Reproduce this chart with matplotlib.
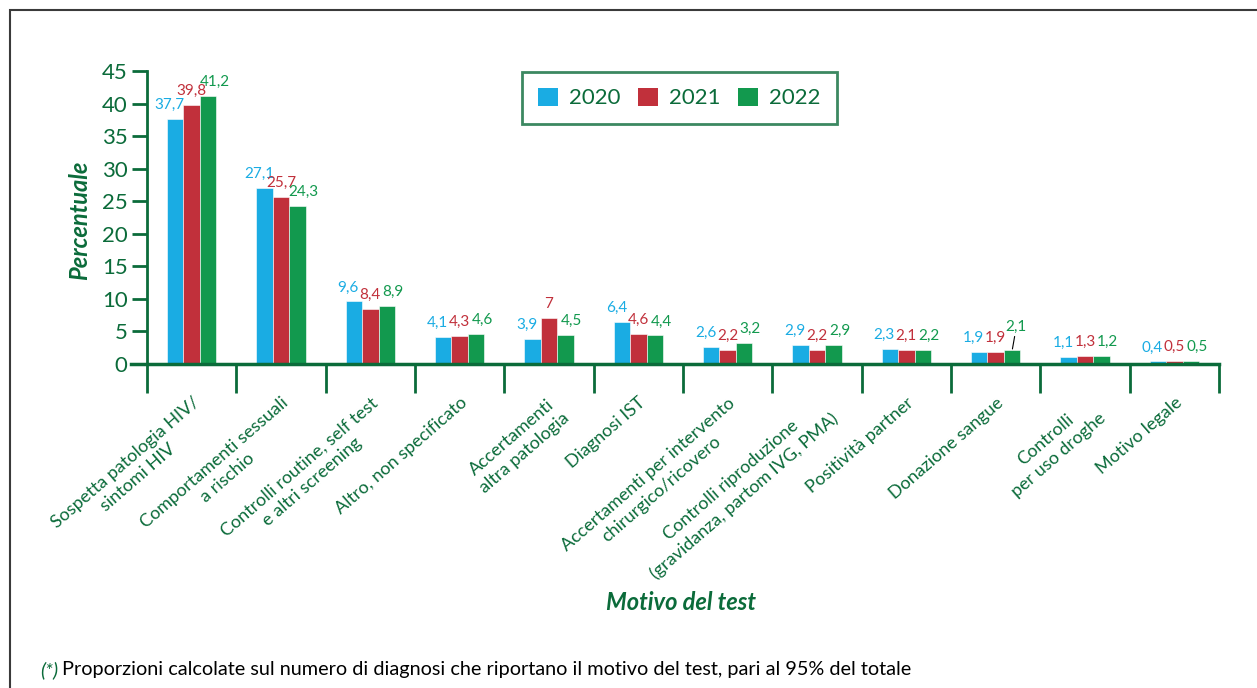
import numpy as np
import matplotlib
matplotlib.use("Agg")
import matplotlib.pyplot as plt
from matplotlib.patches import Rectangle, Patch

plt.rcParams['font.family'] = ['Lato', 'DejaVu Sans']

categories = [
    "Sospetta patologia HIV/\nsintomi HIV",
    "Comportamenti sessuali\na rischio",
    "Controlli routine, self test\ne altri screening",
    "Altro, non specificato",
    "Accertamenti\naltra patologia",
    "Diagnosi IST",
    "Accertamenti per intervento\nchirurgico/ricovero",
    "Controlli riproduzione\n(gravidanza, partom IVG, PMA)",
    "Positività partner",
    "Donazione sangue",
    "Controlli\nper uso droghe",
    "Motivo legale",
]
years = ["2020", "2021", "2022"]
v2020 = [37.7, 27.1, 9.6, 4.1, 3.9, 6.4, 2.6, 2.9, 2.3, 1.9, 1.1, 0.4]
v2021 = [39.8, 25.7, 8.4, 4.3, 7.0, 4.6, 2.2, 2.2, 2.1, 1.9, 1.3, 0.5]
v2022 = [41.2, 24.3, 8.9, 4.6, 4.5, 4.4, 3.2, 2.9, 2.2, 2.1, 1.2, 0.5]
yticks = [0, 5, 10, 15, 20, 25, 30, 35, 40, 45]

colors = ["#1AACE3", "#C1303B", "#12994E"]
dgreen = "#0B6B3A"

W, H = 1257, 688
fig = plt.figure(figsize=(W / 100, H / 100), dpi=100)

# outer frame
fig.patches.append(Rectangle((10 / W, -0.05), 1.2, 1 - 10 / H + 0.05, transform=fig.transFigure,
                             fill=False, edgecolor="#3a3a3a", lw=1.5))

ax = fig.add_axes([147 / W, (H - 364) / H, (1219 - 147) / W, 293 / H])
n = len(categories)
x = np.arange(n)
w = 0.185
series = [v2020, v2021, v2022]
hoff = [-4, 0, 4.5]
for i, (vals, c) in enumerate(zip(series, colors)):
    bars = ax.bar(x + (i - 1) * w, vals, width=w, color=c, edgecolor="white", linewidth=0.4, label=years[i], zorder=2)
    for j, (b, v) in enumerate(zip(bars, vals)):
        txt = f"{v:g}".replace(".", ",")
        if i == 2 and j == 9:
            ax.annotate(txt, (b.get_x() + b.get_width() / 2, v), xytext=(3, 12), textcoords="offset points",
                        ha="center", va="bottom", color=c, fontsize=11,
                        arrowprops=dict(arrowstyle="-", color="black", lw=0.8, shrinkA=0, shrinkB=1))
        else:
            ax.annotate(txt, (b.get_x() + b.get_width() / 2, v), xytext=(hoff[i], 5), textcoords="offset points",
                        ha="center", va="bottom", color=c, fontsize=11)

ax.set_xlim(-0.5, n - 0.5)
ax.set_ylim(0, 45)
ax.set_yticks(yticks)
ax.set_yticklabels([str(t) for t in yticks])
ax.tick_params(axis="y", direction="out", length=11, width=2, color=dgreen, labelcolor=dgreen, labelsize=16, pad=3)

ax.set_xticks(np.arange(-0.5, n, 1.0))
ax.set_xticklabels([])
ax.tick_params(axis="x", which="major", direction="out", length=21, width=2, color=dgreen)
ax.set_xticks(x, minor=True)
ax.set_xticklabels(categories, minor=True, rotation=41, ha="right", va="top", rotation_mode="anchor",
                   multialignment="center", linespacing=1.3, fontsize=13, color=dgreen)
ax.tick_params(axis="x", which="minor", length=0, pad=22)

for s in ["top", "right"]:
    ax.spines[s].set_visible(False)
ax.spines["left"].set_color(dgreen)
ax.spines["left"].set_linewidth(2)
ax.spines["bottom"].set_color(dgreen)
ax.spines["bottom"].set_linewidth(2.5)
ax.spines["bottom"].set_bounds(-0.68, n - 0.5)

handles = [Patch(facecolor=c, edgecolor="none") for c in colors]
leg = ax.legend(handles, years, loc="upper left", bbox_to_anchor=(522 / W, 1 - 72 / H),
                bbox_transform=fig.transFigure, ncol=3, frameon=True, fancybox=False,
                fontsize=16, handlelength=0.9, handleheight=0.9, columnspacing=0.8,
                handletextpad=0.5, borderpad=0.7, borderaxespad=0)
leg.get_frame().set_edgecolor(dgreen)
leg.get_frame().set_linewidth(2)
for t in leg.get_texts():
    t.set_color(dgreen)

fig.text(80 / W, 1 - 220 / H, "Percentuale", rotation=90, ha="center", va="center",
         fontsize=17, fontweight="bold", fontstyle="italic", color=dgreen)
fig.text(681 / W, 1 - 603 / H, "Motivo del test", ha="center", va="center",
         fontsize=17, fontweight="bold", fontstyle="italic", color=dgreen)
fig.text(40 / W, 1 - 670 / H, "(*)", ha="left", va="center", fontsize=14.3, fontstyle="italic", color=dgreen)
fig.text(62 / W, 1 - 670 / H, "Proporzioni calcolate sul numero di diagnosi che riportano il motivo del test, pari al 95% del totale",
         ha="left", va="center", fontsize=14.3, color="black")

fig.savefig("out.png", dpi=100)
